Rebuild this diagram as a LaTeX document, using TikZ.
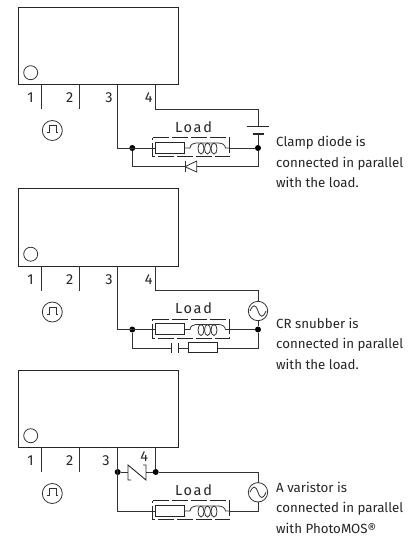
\documentclass[tikz,border=0pt]{standalone}
\usepackage{fontspec}
\setmainfont{Fira Sans}
\tikzset{
  x=1pt,y=-1pt,
  wire/.style={draw=black!80,line width=0.8pt},
  blk/.style={draw=black!85,line width=0.9pt},
  lbl/.style={font=\fontsize{14.5}{15}\selectfont,text=black!85,inner sep=0pt},
  note/.style={font=\fontsize{13.3}{20.5}\selectfont,text=black!85,inner sep=0pt,align=left,anchor=west},
  dotnode/.style={circle,fill=black,inner sep=0pt,minimum size=6pt},
  loadbox/.style={draw=black!85,line width=0.8pt,dash pattern=on 16pt off 3pt},
}
\newcommand{\unitpart}[1]{%
\begin{scope}[shift={(0,#1)}]
  \draw[blk] (18.7,7.3) rectangle (178.3,84.7);
  \draw[wire] (30.7,72.7) circle (7);
  \draw[wire] (41.7,84.7) -- (41.7,109);
  \draw[wire] (79.3,84.7) -- (79.3,109);
  \node[lbl] at (30.5,98) {1};
  \node[lbl] at (69.7,98) {2};
\end{scope}}
\newcommand{\pulsepart}[1]{%
\begin{scope}[shift={(0,#1)}]
  \draw[wire] (52.3,130.5) circle (10);
  \draw[wire,line width=1pt] (46.5,132.7) -- (49,132.7) -- (49,125.5) -- (56,125.5) -- (56,132.7) -- (58.3,132.7);
\end{scope}}
\newcommand{\loadpart}[1]{%
\begin{scope}[shift={(0,#1)}]
  \node[lbl,font=\fontsize{14.5}{15}\selectfont\addfontfeature{LetterSpace=12}] at (193.5,127) {Load};
  \draw[loadbox] (152.7,137.7) -- (229.7,137.7) -- (229.7,156.7) -- (152.7,156.7) -- cycle;
  \draw[blk,fill=white] (155.7,142.3) rectangle (184.3,153.3);
  \draw[wire] (184.3,148) -- (190,148) .. controls (190.5,144.5) and (193,143) .. (196,143)
     -- (218,143) .. controls (222,143) and (225,144.5) .. (225.5,148) -- (229.7,148);
  \draw[wire] (201,148.5) ellipse (3 and 5.5);
  \draw[wire] (207.5,148.5) ellipse (3 and 5.5);
  \draw[wire] (214,148.5) ellipse (3 and 5.5);
\end{scope}}
\newcommand{\acsource}[2]{%
  \draw[wire,fill=white] (258,#1) circle (9.7);
  \draw[wire] (250,#1) .. controls (253,#2) and (255.5,#2) .. (258,#1) .. controls (260.5,#1+7) and (263,#1+7) .. (266,#1);
}
\begin{document}
\begin{tikzpicture}
\useasboundingbox (0,0) rectangle (410,536);
\fill[white] (0,0) rectangle (410,536);
% --- diagram 1
\unitpart{0}\pulsepart{0}
\node[lbl] at (109,98) {3};
\node[lbl] at (148.7,98) {4};
\node[dotnode] (n1a) at (132.3,148) {};
\node[dotnode] (n1b) at (258,148) {};
\draw[wire] (155.7,84.7) -- (155.7,109) -- (258,109) -- (258,126.7);
\draw[blk] (247,126.7) -- (269,126.7);
\draw[line width=1.8pt,black!85] (253,134) -- (264,134);
\draw[wire] (258,134) -- (n1b);
\draw[wire] (117.7,84.7) -- (117.7,148) -- (155.7,148);
\draw[wire] (229.7,148) -- (n1b);
\draw[wire] (n1a) -- (132.3,166.7) -- (258,166.7) -- (n1b);
\draw[wire] (185,161) -- (185,172);
\draw[wire,fill=white] (196.7,161) -- (196.7,172) -- (185,166.7) -- cycle;
\loadpart{0}
\node[note] at (276,162) {Clamp diode is\\connected in parallel\\with the load.};
% --- diagram 2
\unitpart{181.5}\pulsepart{181.5}
\node[lbl] at (109,279.5) {3};
\node[lbl] at (148.7,279.5) {4};
\node[dotnode] (n2a) at (132.3,329.5) {};
\node[dotnode] (n2b) at (258,329.5) {};
\draw[wire] (155.7,266.2) -- (155.7,290.5) -- (258,290.5) -- (258,311);
\draw[wire] (258,311) -- (n2b);
\draw[wire] (117.7,266.2) -- (117.7,329.5) -- (155.7,329.5);
\draw[wire] (229.7,329.5) -- (n2b);
\draw[wire] (n2a) -- (132.3,348) -- (171.7,348);
\draw[wire] (178.3,348) -- (188.3,348);
\draw[wire] (217.7,348) -- (258,348) -- (n2b);
\draw[blk] (171.7,343) -- (171.7,353);
\draw[blk] (178.3,343) -- (178.3,353);
\draw[blk,fill=white] (188.3,342.7) rectangle (217.7,352.9);
\acsource{311}{304}
\loadpart{181.5}
\node[note] at (276,343.5) {CR snubber is\\connected in parallel\\with the load.};
% --- diagram 3
\unitpart{363}\pulsepart{363}
\node[lbl] at (106,460.7) {3};
\node[lbl] at (144.3,457) {4};
\node[dotnode] (n3a) at (117.7,472) {};
\node[dotnode] (n3b) at (155.7,472) {};
\draw[wire] (117.7,447.7) -- (117.7,511) -- (155.7,511);
\draw[wire] (155.7,447.7) -- (n3b);
\draw[wire] (n3a) -- (128,472);
\draw[wire] (146,472) -- (n3b);
\draw[wire] (n3b) -- (258,472) -- (258,492.3);
\draw[wire] (258,492.3) -- (258,511) -- (229.7,511);
\draw[blk] (131,480) -- (128,480) -- (128,465) -- (146,480) -- (146,465) -- (143,465);
\acsource{492.3}{485.3}
\loadpart{363}
\node[note] at (276,507.8) {A varistor is\\connected in parallel\\with PhotoMOS®};
\end{tikzpicture}
\end{document}
